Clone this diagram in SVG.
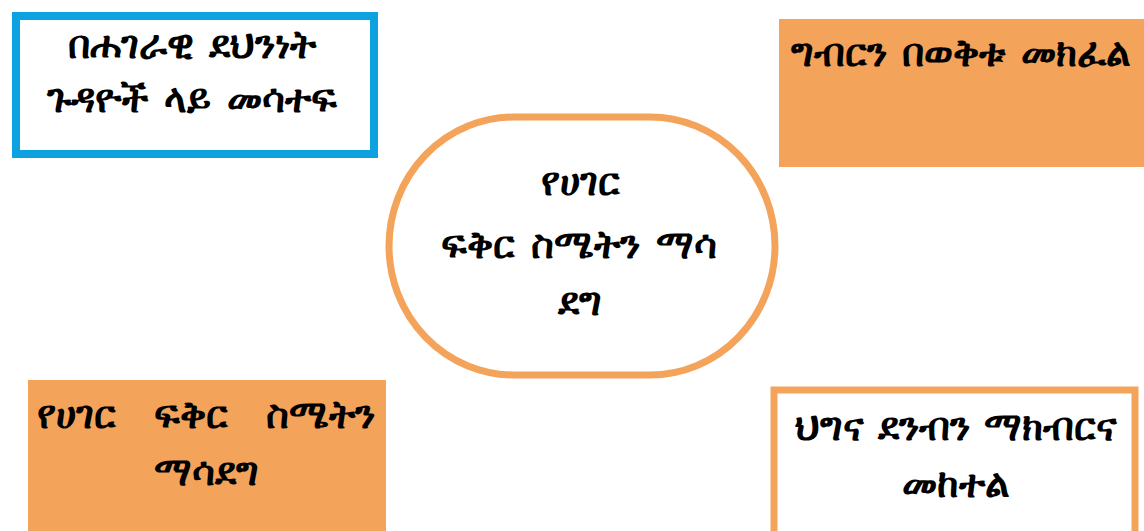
<svg xmlns="http://www.w3.org/2000/svg" width="1144" height="531" viewBox="0 0 1144 531">
<style>
.t{font-family:"Noto Sans","DejaVu Sans",sans-serif;font-size:39px;font-weight:bold;fill:#000;text-anchor:middle}
.fill{fill:#F4A35B;stroke:none}
</style>
<rect width="1144" height="531" fill="#fff"/>
<g id="connectors"></g>
<g id="n1">
<rect x="16" y="16" width="358" height="138" fill="#fff" stroke="#0EA1DF" stroke-width="8"/>
<text class="t" x="192" y="58" word-spacing="5">በሐገራዊ ደህንነት</text>
<text class="t" x="192" y="112" word-spacing="5">ጉዳዮች ላይ መሳተፍ</text>
</g>
<g id="n2">
<rect class="fill" x="779" y="19" width="365" height="148"/>
<text class="t" x="961" y="66" word-spacing="5">ግብርን በወቅቱ መክፈል</text>
</g>
<g id="n3">
<rect x="389" y="117" width="386" height="258" rx="125" ry="129" fill="#fff" stroke="#F4A35B" stroke-width="7"/>
<text class="t" x="580" y="195">የሀገር</text>
<text class="t" x="579" y="258" word-spacing="6">ፍቅር ስሜትን ማሳ</text>
<text class="t" x="580" y="315">ደግ</text>
</g>
<g id="n4">
<rect class="fill" x="28" y="380" width="358" height="151"/>
<text class="t" x="206" y="428" word-spacing="28">የሀገር ፍቅር ስሜትን</text>
<text class="t" x="206" y="485">ማሳደግ</text>
</g>
<g id="n5">
<rect x="774" y="390" width="361" height="150" fill="#fff" stroke="#F4A35B" stroke-width="7"/>
<text class="t" x="956" y="440" word-spacing="4">ህግና ደንብን ማክብርና</text>
<text class="t" x="956" y="497">መከተል</text>
</g>
</svg>
